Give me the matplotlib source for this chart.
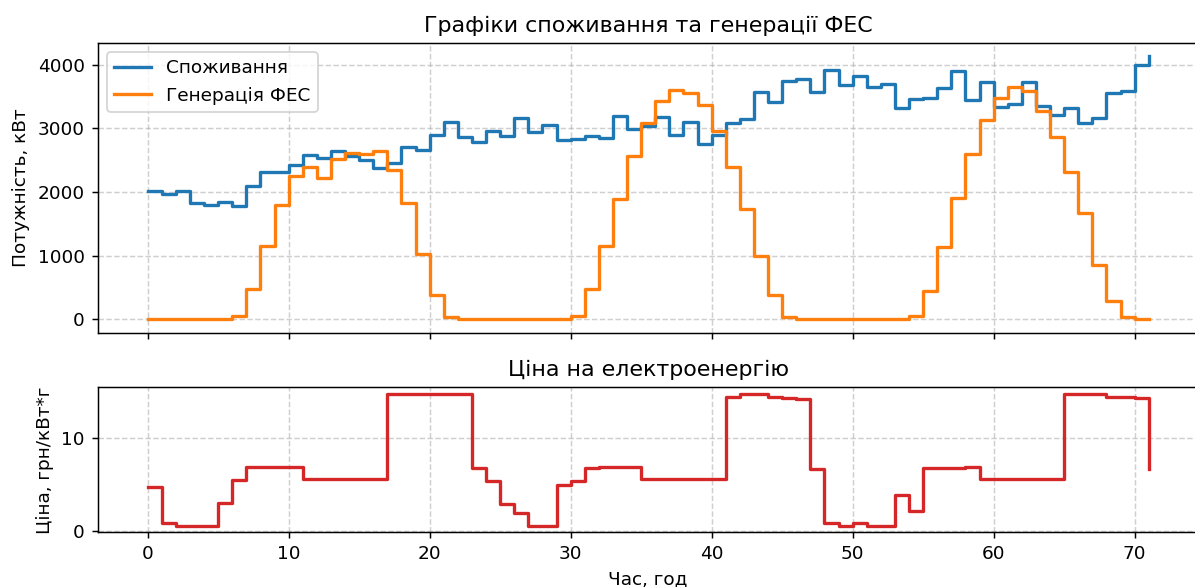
import numpy as np
import matplotlib.pyplot as plt

# hourly data for three days
hours = np.arange(72)

consumption = [2020, 1970, 2010, 1830, 1800, 1840, 1780, 2090, 2310, 2310,
               2430, 2580, 2530, 2640, 2570, 2510, 2380, 2450, 2700, 2660,
               2900, 3100, 2860, 2790, 2960, 2880, 3170, 2940, 3050, 2820,
               2830, 2880, 2850, 3190, 2990, 3030, 3180, 2890, 3100, 2750,
               2890, 3080, 3140, 3570, 3410, 3740, 3780, 3570, 3920, 3680,
               3830, 3650, 3700, 3320, 3460, 3480, 3640, 3900, 3440, 3730,
               3340, 3380, 3730, 3350, 3210, 3320, 3080, 3160, 3560, 3580,
               3990, 4140]

generation = [0, 0, 0, 0, 0, 0, 60, 480, 1150, 1800,
              2250, 2390, 2220, 2520, 2610, 2590, 2650, 2350, 1820, 1030,
              380, 30, 0, 0, 0, 0, 0, 0, 0, 0,
              60, 470, 1150, 1890, 2560, 3090, 3430, 3600, 3560, 3360,
              2960, 2400, 1740, 990, 380, 30, 0, 0, 0, 0,
              0, 0, 0, 0, 60, 450, 1130, 1900, 2590, 3130,
              3480, 3650, 3590, 3280, 2870, 2320, 1670, 860, 290, 30,
              0, 0]

price = [4.7, 0.8, 0.55, 0.55, 0.55, 3.0, 5.5, 6.9, 6.9, 6.9,
         6.9, 5.6, 5.6, 5.6, 5.6, 5.6, 5.6, 14.8, 14.8, 14.8,
         14.8, 14.8, 14.8, 6.8, 5.4, 2.85, 1.9, 0.55, 0.55, 4.95,
         5.4, 6.75, 6.9, 6.9, 6.9, 5.6, 5.6, 5.6, 5.6, 5.6,
         5.6, 14.45, 14.8, 14.8, 14.5, 14.35, 14.2, 6.65, 0.8, 0.55,
         0.85, 0.55, 0.55, 3.85, 2.15, 6.8, 6.8, 6.8, 6.95, 5.6,
         5.6, 5.6, 5.6, 5.6, 5.6, 14.8, 14.8, 14.8, 14.5, 14.5,
         14.35, 6.65]

price_ticks = [0, 10]

fig, (ax1, ax2) = plt.subplots(2, 1, sharex=True, figsize=(8.985, 4.414), dpi=133,
                               gridspec_kw={'height_ratios': [2, 1]})
fig.subplots_adjust(left=0.0817, right=1.0032, top=0.9273, bottom=0.0932, hspace=0.252)

ax1.step(hours, consumption, where='post', lw=1.8, color='tab:blue', label='Споживання')
ax1.step(hours, generation, where='post', lw=1.8, color='tab:orange', label='Генерація ФЕС')
ax1.set_title('Графіки споживання та генерації ФЕС')
ax1.set_ylabel('Потужність, кВт')
ax1.legend(loc='upper left')
ax1.grid(True, linestyle='--', alpha=0.6)

ax2.step(hours, price, where='post', lw=1.8, color='tab:red')
ax2.set_title('Ціна на електроенергію')
ax2.set_ylabel('Ціна, грн/кВт*г')
ax2.set_xlabel('Час, год')
ax2.set_yticks(price_ticks)
ax2.grid(True, linestyle='--', alpha=0.6)

plt.savefig('out.png')
